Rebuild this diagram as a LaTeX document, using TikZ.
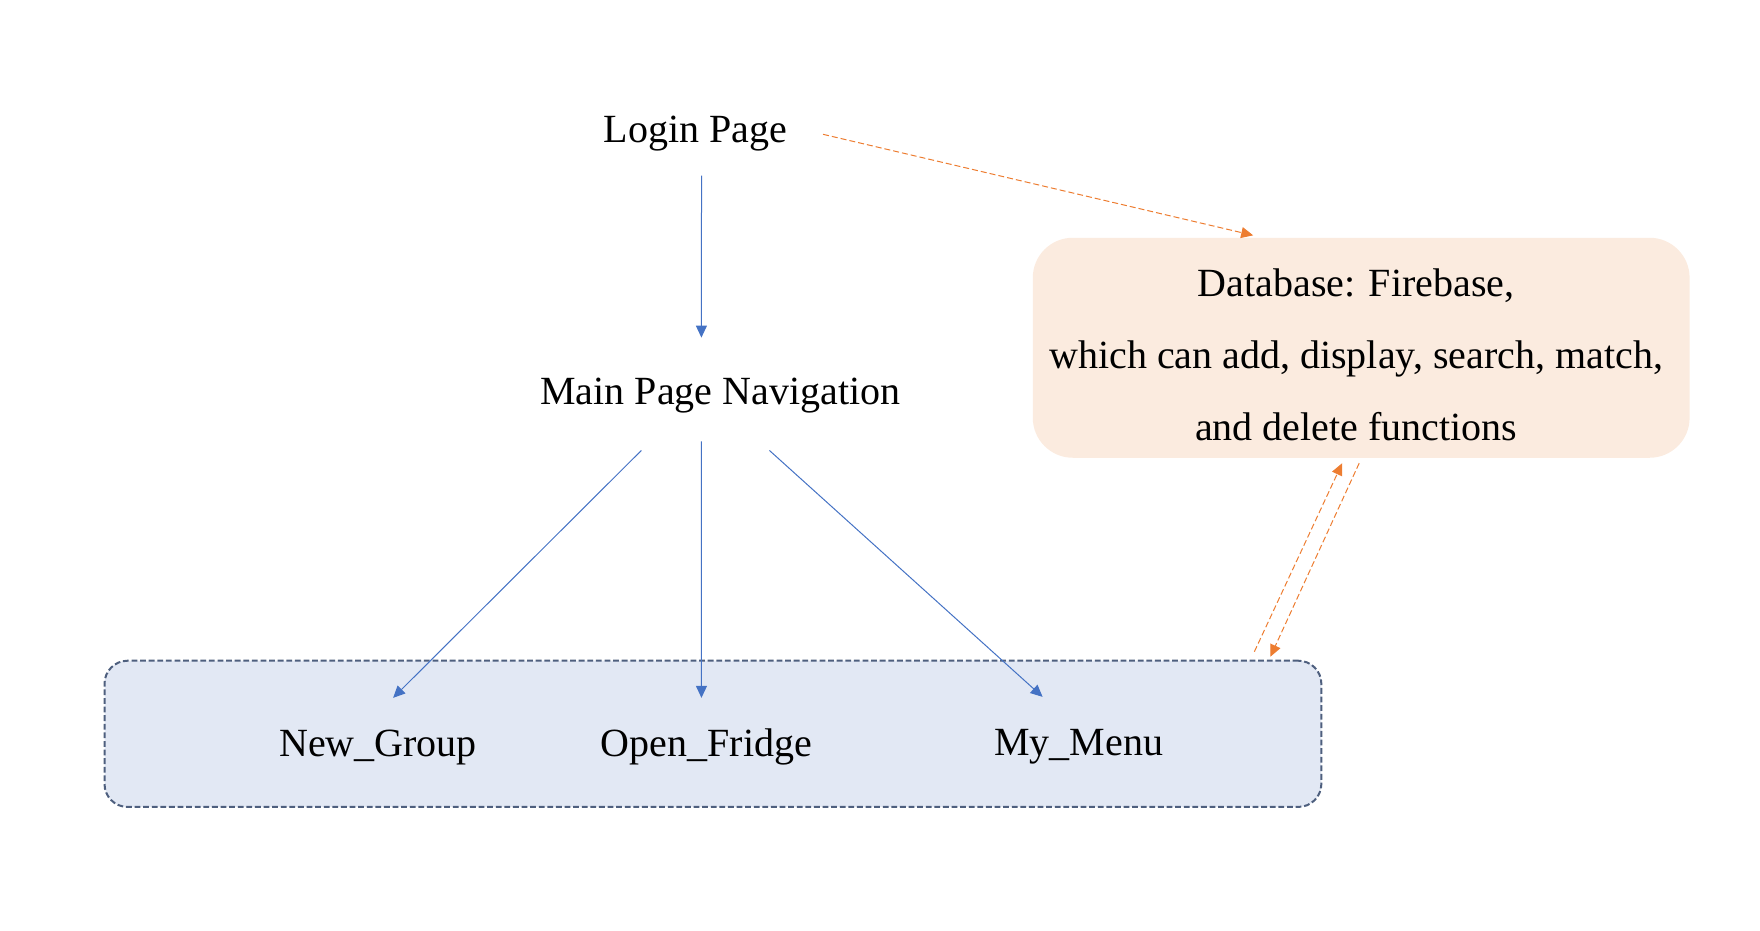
\documentclass[tikz,border=0pt]{standalone}
\usepackage{fontspec}
\setmainfont{Liberation Serif}
\usetikzlibrary{arrows.meta}
\definecolor{navblue}{HTML}{4472C4}
\definecolor{dborange}{HTML}{ED7D31}
\definecolor{dbfill}{HTML}{FBEBDF}
\definecolor{grpfill}{HTML}{E2E8F4}
\definecolor{grpline}{HTML}{4E5F7E}

\begin{document}
\begin{tikzpicture}[x=0.4975pt,y=-0.4975pt,
  lbl/.style={font=\fontsize{20}{36}\selectfont,inner xsep=0pt},
  navarrow/.style={draw=navblue,line width=0.5pt,-{Triangle[length=6pt,width=5.5pt]}},
  dbarrow/.style={draw=dborange,line width=0.5pt,dash pattern=on 3pt off 1.5pt,-{Triangle[length=6pt,width=5.5pt]}}]
\useasboundingbox (0,0) rectangle (1768.8,934.7);
% group of pages
\node[draw=grpline,fill=grpfill,line width=1pt,dash pattern=on 2.9pt off 1.4pt,
  rounded corners=11.5pt,minimum width=608.4pt,minimum height=73.1pt] (group) at (716.5,737.5) {};
\node[draw=none,fill=dbfill,rounded corners=20pt,minimum width=328.4pt,minimum height=110pt] (db) at (1368,349.5) {};
\node[lbl,align=center] (dbtext) at (1363,356.5) {Database: Firebase,\\which can add, display, search, match,\\and delete functions};
\node[lbl,minimum height=42pt] (login) at (699,134) {Login Page};
\node[lbl,minimum height=58pt] (main) at (724,398) {Main Page Navigation};
\node[lbl,minimum height=49pt] (newgroup) at (380,751) {New\_Group};
\node[lbl,minimum height=49pt] (fridge) at (710,751) {Open\_Fridge};
\node[lbl,minimum height=49pt] (mymenu) at (1084,750) {My\_Menu};
% navigation
\draw[navarrow] ([xshift=3pt]login.south) -- ([xshift=-9.5pt]main.north);
\draw[navarrow] ([xshift=-39.5pt,yshift=2pt]main.south) -- ([xshift=7.5pt]newgroup.north);
\draw[navarrow] ([xshift=-9.5pt,yshift=6.5pt]main.south) -- ([xshift=-2.5pt]fridge.north);
\draw[navarrow] ([xshift=24.5pt,yshift=2pt]main.south) -- ([xshift=-18pt]mymenu.north);
% database links
\draw[dbarrow] ([xshift=17.75pt,yshift=-0.5pt]login.east) -- ([xshift=-54pt,yshift=1pt]db.north);
\draw[dbarrow] ([xshift=-34pt,yshift=4pt]group.north east) -- ([xshift=-9.5pt,yshift=-2.5pt]db.south);
\draw[dbarrow] ([xshift=-1pt,yshift=-2.5pt]db.south) -- ([xshift=-26pt,yshift=1.5pt]group.north east);
\end{tikzpicture}
\end{document}
